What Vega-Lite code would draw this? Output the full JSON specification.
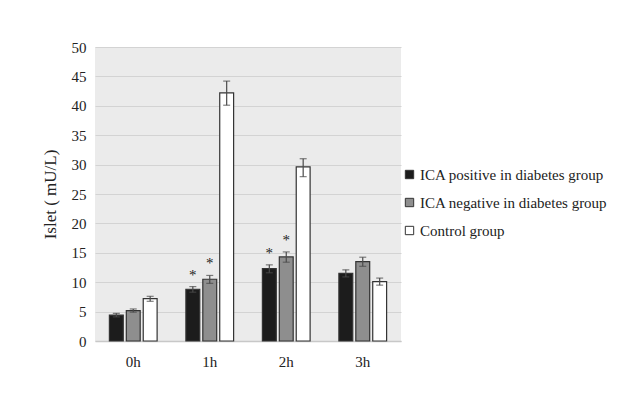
{
  "$schema": "https://vega.github.io/schema/vega-lite/v6.json",
  "width": 306,
  "height": 294,
  "autosize": "none",
  "padding": {"left": 95, "top": 47, "right": 226, "bottom": 53},
  "background": "white",
  "config": {
    "view": {"fill": "#ebebeb", "stroke": null},
    "font": "Liberation Serif",
    "axis": {"labelFont": "Liberation Serif", "titleFont": "Liberation Serif"},
    "axisY": {
      "titleFontSize": 17,
      "titleFontWeight": "normal",
      "titleColor": "#222222",
      "titlePadding": 12,
      "labelOverlap": false,
      "labelFontSize": 15,
      "labelColor": "#222222",
      "labelPadding": 9,
      "ticks": false,
      "domain": false,
      "grid": true,
      "gridColor": "#d3d3d3",
      "gridWidth": 1.2
    },
    "legend": {"labelFont": "Liberation Serif"}
  },
  "data": {
    "values": [
      {"time": "0h", "group": "ICA positive in diabetes group", "mean": 4.4, "lo": 4.1, "hi": 4.7, "sig": ""},
      {"time": "0h", "group": "ICA negative in diabetes group", "mean": 5.15, "lo": 4.9, "hi": 5.45, "sig": ""},
      {"time": "0h", "group": "Control group", "mean": 7.2, "lo": 6.75, "hi": 7.6, "sig": ""},
      {"time": "1h", "group": "ICA positive in diabetes group", "mean": 8.8, "lo": 8.3, "hi": 9.25, "sig": "*"},
      {"time": "1h", "group": "ICA negative in diabetes group", "mean": 10.5, "lo": 9.8, "hi": 11.15, "sig": "*"},
      {"time": "1h", "group": "Control group", "mean": 42.2, "lo": 40.1, "hi": 44.2, "sig": ""},
      {"time": "2h", "group": "ICA positive in diabetes group", "mean": 12.3, "lo": 11.6, "hi": 12.95, "sig": "*"},
      {"time": "2h", "group": "ICA negative in diabetes group", "mean": 14.3, "lo": 13.4, "hi": 15.15, "sig": "*"},
      {"time": "2h", "group": "Control group", "mean": 29.6, "lo": 27.95, "hi": 31.0, "sig": ""},
      {"time": "3h", "group": "ICA positive in diabetes group", "mean": 11.5, "lo": 10.9, "hi": 12.1, "sig": ""},
      {"time": "3h", "group": "ICA negative in diabetes group", "mean": 13.5, "lo": 12.7, "hi": 14.25, "sig": ""},
      {"time": "3h", "group": "Control group", "mean": 10.1, "lo": 9.5, "hi": 10.7, "sig": ""}
    ]
  },
  "encoding": {
    "x": {
      "field": "time",
      "type": "nominal",
      "scale": {"paddingInner": 0, "paddingOuter": 0},
      "axis": {
        "title": null,
        "labelAngle": 0,
        "labelFontSize": 15,
        "labelColor": "#222222",
        "labelPadding": 13,
        "ticks": false,
        "domain": true,
        "domainColor": "#c8c8c8",
        "domainWidth": 1.5
      }
    },
    "xOffset": {
      "field": "group",
      "type": "nominal",
      "sort": ["ICA positive in diabetes group", "ICA negative in diabetes group", "Control group"],
      "scale": {"paddingInner": 0.18, "paddingOuter": 0.85}
    }
  },
  "layer": [
    {
      "mark": {"type": "bar", "stroke": "#333333", "strokeWidth": 1.2},
      "encoding": {
        "y": {
          "field": "mean",
          "type": "quantitative",
          "scale": {"domain": [0, 50], "nice": false},
          "axis": {"title": "Islet ( mU/L)", "values": [0, 5, 10, 15, 20, 25, 30, 35, 40, 45, 50]}
        },
        "color": {
          "field": "group",
          "type": "nominal",
          "sort": ["ICA positive in diabetes group", "ICA negative in diabetes group", "Control group"],
          "scale": {
            "domain": ["ICA positive in diabetes group", "ICA negative in diabetes group", "Control group"],
            "range": ["#1c1c1c", "#8e8e8e", "#ffffff"]
          },
          "legend": {
            "title": null,
            "orient": "none",
            "legendX": 307,
            "legendY": 120,
            "symbolType": "square",
            "symbolSize": 70,
            "symbolStrokeColor": "#333333",
            "symbolStrokeWidth": 1,
            "labelFontSize": 15,
            "labelColor": "#222222",
            "labelOffset": 3,
            "labelLimit": 0,
            "rowPadding": 12
          }
        }
      }
    },
    {
      "mark": {"type": "rule", "color": "#4a4a4a", "strokeWidth": 1.2},
      "encoding": {
        "y": {"field": "lo", "type": "quantitative", "axis": {"title": "Islet ( mU/L)", "values": [0, 5, 10, 15, 20, 25, 30, 35, 40, 45, 50]}},
        "y2": {"field": "hi"}
      }
    },
    {
      "mark": {"type": "tick", "color": "#4a4a4a", "thickness": 1.2, "size": 7},
      "encoding": {
        "y": {"field": "lo", "type": "quantitative", "axis": {"title": "Islet ( mU/L)", "values": [0, 5, 10, 15, 20, 25, 30, 35, 40, 45, 50]}}
      }
    },
    {
      "mark": {"type": "tick", "color": "#4a4a4a", "thickness": 1.2, "size": 7},
      "encoding": {
        "y": {"field": "hi", "type": "quantitative", "axis": {"title": "Islet ( mU/L)", "values": [0, 5, 10, 15, 20, 25, 30, 35, 40, 45, 50]}}
      }
    },
    {
      "transform": [{"filter": "datum.sig == '*'"}],
      "mark": {"type": "text", "font": "Liberation Serif", "fontSize": 15, "fill": "#222222", "baseline": "alphabetic", "dy": -7},
      "encoding": {
        "y": {"field": "hi", "type": "quantitative", "axis": {"title": "Islet ( mU/L)", "values": [0, 5, 10, 15, 20, 25, 30, 35, 40, 45, 50]}},
        "text": {"field": "sig"}
      }
    }
  ]
}
